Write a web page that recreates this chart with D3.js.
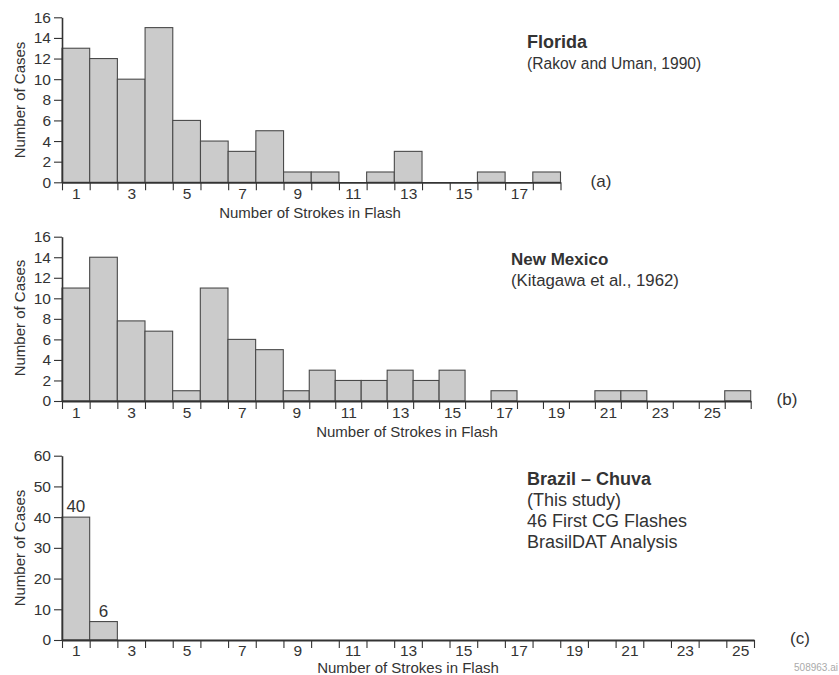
<!DOCTYPE html>
<html><head><meta charset="utf-8">
<script src="https://cdn.jsdelivr.net/npm/d3@7"></script>
<style>
body{margin:0;background:#fff}
svg{display:block}
text{font-family:"Liberation Sans",Arial,Helvetica,sans-serif;fill:#333}
</style>
</head><body>
<svg id="chart" width="839" height="675"></svg>
<script>
// ---- data ----
const binsA = d3.range(1, 19);
const valuesA = [13, 12, 10, 15, 6, 4, 3, 5, 1, 1, 0, 1, 3, 0, 0, 1, 0, 1];
const binsB = d3.range(1, 27);
const valuesB = [11, 14, 7.8, 6.8, 1, 11, 6, 5, 1, 3, 2, 2, 3, 2, 3, 0, 1, 0, 0, 0, 1, 1, 0, 0, 0, 1];
const binsC = d3.range(1, 26);
const valuesC = [40, 6, 0, 0, 0, 0, 0, 0, 0, 0, 0, 0, 0, 0, 0, 0, 0, 0, 0, 0, 0, 0, 0, 0, 0];
const valueLabelsC = [40, 6];
const xLabelsA = [1, 3, 5, 7, 9, 11, 13, 15, 17];
const xLabelsB = [1, 3, 5, 7, 9, 11, 13, 15, 17, 19, 21, 23, 25];
const xLabelsC = [1, 3, 5, 7, 9, 11, 13, 15, 17, 19, 21, 23, 25];
const yTicksA = [0, 2, 4, 6, 8, 10, 12, 14, 16];
const yTicksB = [0, 2, 4, 6, 8, 10, 12, 14, 16];
const yTicksC = [0, 10, 20, 30, 40, 50, 60];
const titleLinesA = ["Florida", "(Rakov and Uman, 1990)"];
const titleLinesB = ["New Mexico", "(Kitagawa et al., 1962)"];
const titleLinesC = ["Brazil \u2013 Chuva", "(This study)", "46 First CG Flashes", "BrasilDAT Analysis"];
const yTitle = "Number of Cases";
const xTitle = "Number of Strokes in Flash";

// ---- layout ----
const panels = [
  {bins: binsA, values: valuesA, xLabels: xLabelsA, yTicks: yTicksA, lines: titleLinesA, tag: "(a)",
   xDom: [0, 18], xRng: [62, 560.5], y0: 182.3, yTop: 17.3, yMax: 16, pad: 6,
   tx: 527, ty: 48, fs: [18, 15.6], tagX: 601, tagY: 187, xtX: 310, xtY: 218, ytY: 100},
  {bins: binsB, values: valuesB, xLabels: xLabelsB, yTicks: yTicksB, lines: titleLinesB, tag: "(b)",
   xDom: [0, 8, 26], xRng: [62, 283.3, 750.7], y0: 401, yTop: 236.7, yMax: 16, pad: 6,
   tx: 511, ty: 265, fs: [17, 16.8], tagX: 787, tagY: 405, xtX: 407, xtY: 436.5, ytY: 318},
  {bins: binsC, values: valuesC, xLabels: xLabelsC, yTicks: yTicksC, lines: titleLinesC, tag: "(c)",
   xDom: [0, 25], xRng: [62, 754], y0: 640, yTop: 455.7, yMax: 60, pad: 4.5,
   tx: 527, ty: 485, fs: [18, 18], tagX: 800, tagY: 644, xtX: 408, xtY: 672.5, ytY: 548, valueLabels: valueLabelsC}
];

const svg = d3.select("#chart");
const ink = "#333";

panels.forEach(p => {
  const g = svg.append("g");
  const x = d3.scaleLinear().domain(p.xDom).range(p.xRng);
  const y = d3.scaleLinear().domain([0, p.yMax]).range([p.y0, p.yTop]);

  // bars
  g.selectAll("rect.bar").data(p.bins.map((b, i) => ({b, v: p.values[i]})).filter(d => d.v > 0))
    .enter().append("rect").attr("class", "bar")
    .attr("x", d => x(d.b - 1))
    .attr("width", d => x(d.b) - x(d.b - 1))
    .attr("y", d => y(d.v))
    .attr("height", d => y(0) - y(d.v))
    .attr("fill", "#cbcbcb")
    .attr("stroke", "#4a4a4a")
    .attr("stroke-width", 1.1);

  // value labels
  if (p.valueLabels) {
    g.selectAll("text.vl").data(p.valueLabels).enter().append("text")
      .attr("class", "vl")
      .attr("x", (d, i) => x(p.bins[i] - 0.5))
      .attr("y", (d, i) => y(p.values[i]) - 5)
      .attr("text-anchor", "middle")
      .style("font-size", "17px")
      .text(d => d);
  }

  // y axis
  const ya = g.append("g").attr("transform", `translate(${p.xRng[0]},0)`)
    .call(d3.axisLeft(y).tickValues(p.yTicks).tickSize(8).tickPadding(3).tickSizeOuter(0));
  ya.select(".domain").attr("stroke", ink).attr("stroke-width", 1.6);
  ya.selectAll(".tick line").attr("stroke", ink).attr("stroke-width", 1.1);
  ya.selectAll(".tick text").style("font-size", "15.5px").attr("fill", ink)
    .style("font-family", '"Liberation Sans",Arial,sans-serif');

  // x axis: boundary ticks
  const nB = p.bins.length;
  const xa = g.append("g").attr("transform", `translate(0,${p.y0})`)
    .call(d3.axisBottom(x).tickValues(d3.range(0, nB + 1)).tickFormat("").tickSize(8).tickSizeOuter(0));
  xa.select(".domain").attr("stroke", ink).attr("stroke-width", 1.8);
  xa.selectAll(".tick line").attr("stroke", ink).attr("stroke-width", 1.1);

  // x axis: labels at bin centres
  const xl = g.append("g").attr("transform", `translate(0,${p.y0})`)
    .call(d3.axisBottom(x).tickValues(p.xLabels.map(v => v - 0.5)).tickFormat((d, i) => p.xLabels[i]).tickSize(0).tickPadding(p.pad));
  xl.select(".domain").remove();
  xl.selectAll(".tick text").style("font-size", "15.5px").attr("fill", ink)
    .style("font-family", '"Liberation Sans",Arial,sans-serif');

  // axis titles
  g.append("text").attr("x", p.xtX).attr("y", p.xtY).attr("text-anchor", "middle")
    .style("font-size", "15px").text(xTitle);
  g.append("text").attr("transform", `translate(25,${p.ytY}) rotate(-90)`).attr("text-anchor", "middle")
    .style("font-size", "15px").text(yTitle);

  // panel tag
  g.append("text").attr("x", p.tagX).attr("y", p.tagY).attr("text-anchor", "middle")
    .style("font-size", "17px").text(p.tag);

  // title block
  p.lines.forEach((t, i) => {
    g.append("text").attr("x", p.tx).attr("y", p.ty + i * 21)
      .style("font-size", (i === 0 ? p.fs[0] : p.fs[1]) + "px")
      .style("font-weight", i === 0 ? "bold" : "normal").text(t);
  });
});

svg.append("text").attr("x", 838).attr("y", 671).attr("text-anchor", "end")
  .style("font-size", "10px").style("fill", "#aaa").text("508963.ai");
</script>
</body></html>
